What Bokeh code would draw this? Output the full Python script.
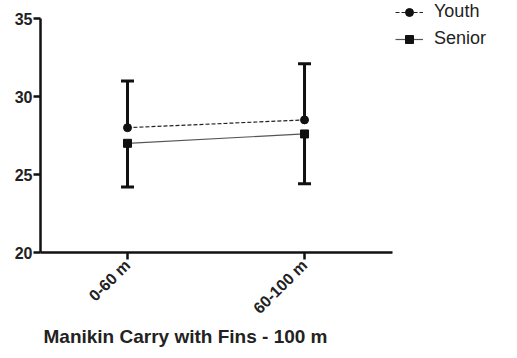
import math
from bokeh.plotting import figure
from bokeh.models import (ColumnDataSource, Range1d, FixedTicker, Whisker,
                          TeeHead, Legend, LegendItem, Title)
from bokeh.embed import file_html
from bokeh.resources import INLINE

categories = ["0-60 m", "60-100 m"]
youth_mean = [28.0, 28.5]
youth_upper = [31.0, 32.1]
senior_mean = [27.0, 27.6]
senior_lower = [24.2, 24.4]
y_ticks = [20, 25, 30, 35]
x_title = "Manikin Carry with Fins - 100 m"
series_names = ["Youth", "Senior"]

FONT = "Liberation Sans"
xpos = list(range(len(categories)))

p = figure(x_range=Range1d(-0.4915, 2.158),
           y_range=Range1d(20, 36.154),
           width=509, height=350, output_backend="svg", toolbar_location=None,
           min_border_left=40, min_border_right=0, min_border_top=0, min_border_bottom=98)
p.grid.visible = False
p.outline_line_color = None

ysrc = ColumnDataSource(dict(x=xpos, mean=youth_mean, upper=youth_upper))
ssrc = ColumnDataSource(dict(x=xpos, mean=senior_mean, lower=senior_lower))

wy = Whisker(source=ysrc, base="x", lower="mean", upper="upper", line_width=3, line_color="#111111",
             upper_head=TeeHead(size=13, line_width=3, line_color="#111111"), lower_head=None)
ws = Whisker(source=ssrc, base="x", lower="lower", upper="mean", line_width=3, line_color="#111111",
             lower_head=TeeHead(size=13, line_width=3, line_color="#111111"), upper_head=None)
p.add_layout(wy)
p.add_layout(ws)

yl = p.line("x", "mean", source=ysrc, line_color="#222222", line_width=1.2, line_dash="4 2")
ym = p.scatter("x", "mean", source=ysrc, marker="circle", size=8, color="#111111")
sl = p.line("x", "mean", source=ssrc, line_color="#555555", line_width=1.2)
sm = p.scatter("x", "mean", source=ssrc, marker="square", size=8, color="#111111")

for ax in (p.xaxis[0], p.yaxis[0]):
    ax.axis_line_width = 2.5
    ax.axis_line_color = "#111111"
    ax.major_tick_line_width = 2.5
    ax.major_tick_line_color = "#111111"
    ax.major_tick_in = 0
    ax.major_tick_out = 7
    ax.minor_tick_line_color = None
    ax.major_label_text_font = FONT
    ax.major_label_text_font_style = "bold"
    ax.major_label_text_font_size = "16px"
    ax.major_label_text_color = "#222222"

p.yaxis[0].ticker = FixedTicker(ticks=y_ticks)
p.yaxis[0].bounds = (20, 35)
p.yaxis[0].major_label_standoff = 1
p.xaxis[0].ticker = FixedTicker(ticks=xpos)
p.xaxis[0].major_label_overrides = {i: c for i, c in zip(xpos, categories)}
p.xaxis[0].bounds = (-0.4915, 1.497)
p.xaxis[0].major_label_orientation = math.pi / 4
p.xaxis[0].major_label_standoff = 3

t = Title(text=x_title, align="left", vertical_align="top", offset=3, text_font=FONT,
          text_font_style="bold", text_font_size="19px", text_color="#222222", standoff=0)
p.add_layout(t, "below")

legend = Legend(items=[LegendItem(label=series_names[0], renderers=[yl, ym]),
                       LegendItem(label=series_names[1], renderers=[sl, sm])],
                location=(355, 203), padding=0, margin=0, spacing=6,
                glyph_width=28, glyph_height=20, label_standoff=11,
                label_text_font=FONT, label_text_font_size="18px", label_text_color="#222222",
                border_line_color=None, background_fill_alpha=0)
p.add_layout(legend)

open("out.html", "w").write(file_html(p, INLINE))
